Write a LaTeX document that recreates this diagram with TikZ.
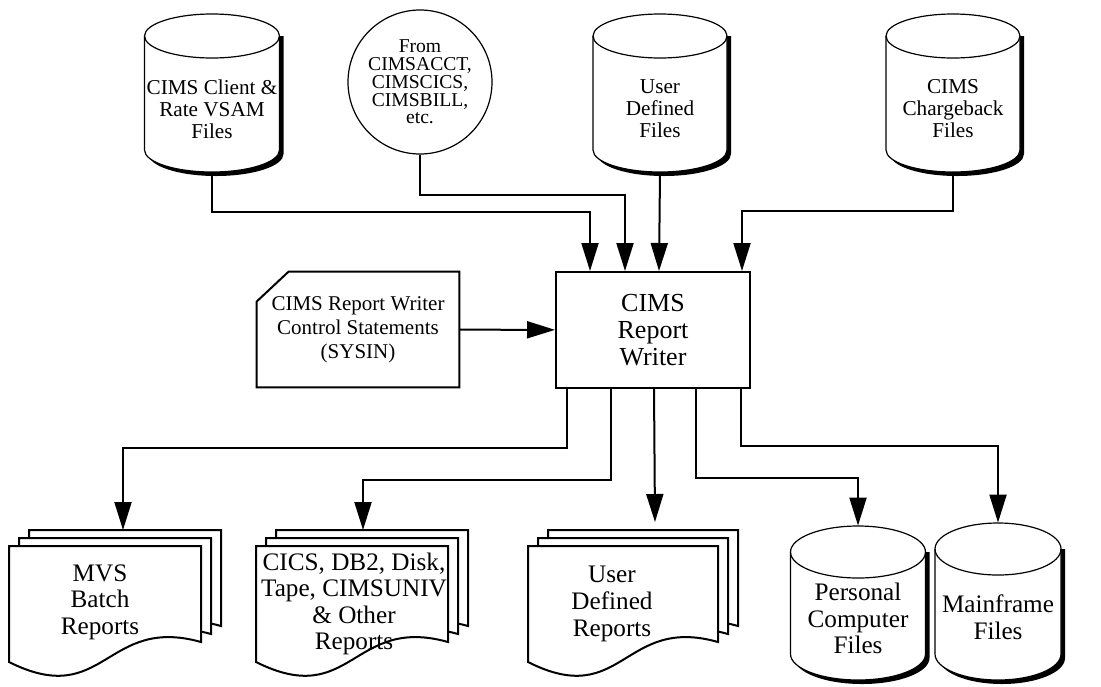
\documentclass[tikz,border=0pt]{standalone}
\usepackage{fontspec}
\setmainfont{Liberation Serif}
\usetikzlibrary{arrows.meta,calc}

\tikzset{
    txt/.style={align=center,font=\fontsize{10.6}{11}\selectfont},
    bigtxt/.style={align=center,font=\fontsize{12.6}{13.3}\selectfont},
    cardtxt/.style={align=center,font=\fontsize{10.5}{12}\selectfont},
    flow/.style={line width=1pt,-{Triangle[length=14pt,width=8.5pt]}},
}

% name, cx, top, width, height, ry, text style, text
\newcommand{\drum}[8]{%
    \fill ({#2+#4/2},{#3+#6}) -- ({#2+#4/2+4},{#3+#6}) -- ({#2+#4/2+4},{#3+#5-#6+4})
        arc[start angle=0,end angle=180,x radius=#4/2,y radius=#6] -- cycle;
    \draw[fill=white,line width=.6pt] ({#2-#4/2},{#3+#6}) -- ({#2-#4/2},{#3+#5-#6})
        arc[start angle=180,end angle=0,x radius=#4/2,y radius=#6] -- ({#2+#4/2},{#3+#6})
        arc[start angle=0,end angle=-180,x radius=#4/2,y radius=#6] -- cycle;
    \draw[line width=.6pt] ({#2-#4/2},{#3+#6}) arc[start angle=180,end angle=0,x radius=#4/2,y radius=#6];
    \node[minimum width=#4/2*1pt,minimum height=#5/2*1pt,inner sep=0] (#1) at (#2,{#3+#5/2}) {};
    \node[#7] (#1-t) at (#2,{#3+0.6*#5}) {#8};
}

% name, left, top, width, entry point, text position, text
\newcommand{\pages}[7]{%
    \foreach \k in {2,1,0}
        \draw[fill=white,line width=1pt] ({#2+10*\k},{#3-8*\k}) -- ++(#4,0) -- ++(0,96)
            .. controls ({#2+#4/2+10*\k},{#3+69-8*\k}) and ({#2+#4/2+10*\k},{#3+164-8*\k})
            .. ({#2+10*\k},{#3+116-8*\k}) -- cycle;
    \coordinate (#1-in) at (#5);
    \node[bigtxt] (#1) at (#6) {#7};
}

\begin{document}
\begin{tikzpicture}[x=0.5pt,y=-0.5pt]
    \useasboundingbox (0,0) rectangle (1101,686);

    \drum{vsam}{212}{14}{135}{158}{22}{txt}{CIMS Client \&\\Rate VSAM\\Files}
    \drum{userf}{660}{14}{134}{158}{22}{txt}{User\\Defined\\Files}
    \drum{chgb}{953}{14}{134}{158}{22}{txt}{CIMS\\Chargeback\\Files}
    \node[circle,draw,line width=.6pt,minimum size=72pt,inner sep=0,align=center,
        font=\fontsize{9.8}{8.9}\selectfont] (from) at (420,82)
        {From\\CIMSACCT,\\CIMSCICS,\\CIMSBILL,\\etc.};

    \node[draw,line width=1pt,bigtxt,font=\fontsize{13}{13.5}\selectfont,
        minimum width=97pt,minimum height=58pt] (rw) at (653,330) {CIMS\\Report\\Writer};
    \node[cardtxt,minimum width=101pt,minimum height=57.5pt,inner sep=0] (card) at (358,329.5)
        {CIMS Report Writer\\Control Statements\\(SYSIN)};
    \draw[line width=1pt] (card.south west) -- ($(card.north west)+(0,30)$)
        -- ($(card.north west)+(32,0)$) -- (card.north east) -- (card.south east) -- cycle;

    \pages{mvs}{9}{546}{192}{123,530}{100,602}{MVS\\Batch\\Reports}
    \pages{cics}{256}{546}{192}{363,530}{354,604}{CICS, DB2, Disk,\\Tape, CIMSUNIV\\\& Other\\Reports}
    \pages{user}{528}{546}{190}{655,522}{612,604}{User\\Defined\\Reports}
    \drum{pc}{858}{526}{135}{154}{26}{bigtxt}{Personal\\Computer\\Files}
    \drum{mf}{998}{523}{126}{157}{26}{bigtxt}{Mainframe\\Files}

    \coordinate (i1) at ($(rw.north west)+(35,0)$);
    \coordinate (i2) at ($(rw.north west)+(70,0)$);
    \coordinate (i3) at ($(rw.north west)+(104,0)$);
    \coordinate (i4) at ($(rw.north west)+(187,0)$);
    \coordinate (o1) at ($(rw.south west)+(12,0)$);
    \coordinate (o2) at ($(rw.south west)+(56,0)$);
    \coordinate (o3) at ($(rw.south west)+(99,0)$);
    \coordinate (o4) at ($(rw.south west)+(141,0)$);
    \coordinate (o5) at ($(rw.south west)+(186,0)$);

    \draw[flow] (vsam.south) -- ++(0,40) -| (i1);
    \draw[flow] (from.south) -- ++(0,40) -| (i2);
    \draw[flow] (userf.south) -- (i3);
    \draw[flow] (chgb.south) -- ++(0,39) -| (i4);
    \draw[flow] (card) -- (rw);

    \draw[flow] (o1) -- ++(0,59) -| (mvs-in);
    \draw[flow] (o2) -- ++(0,91) -| (cics-in);
    \draw[flow] (o3) -- (user-in);
    \draw[flow] (o4) -- ++(0,89) -| (pc.north);
    \draw[flow] (o5) -- ++(0,57) -| (mf.north);
\end{tikzpicture}
\end{document}
